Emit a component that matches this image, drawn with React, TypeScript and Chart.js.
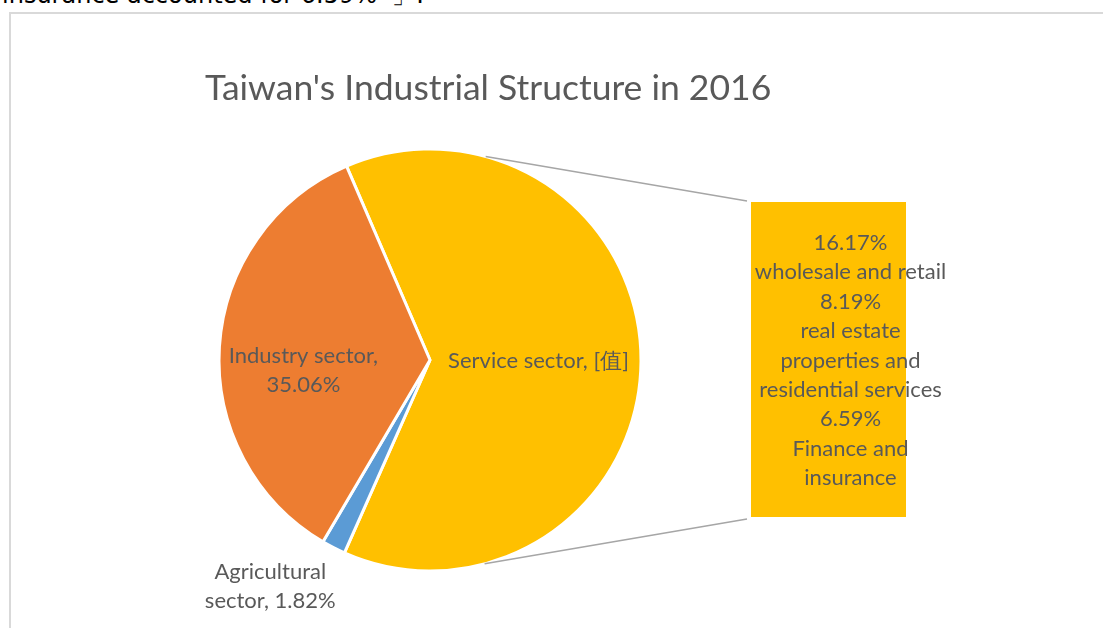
import React, { useEffect, useRef } from "react";
import { Chart, registerables } from "chart.js";

Chart.register(...registerables);

// ---- data ----
const titleText = "Taiwan's Industrial Structure in 2016";
const noteText = "insurance accounted for 6.59%\u00a0\u00a0」.";
const pieLabels = ["Service sector", "Agricultural sector", "Industry sector"];
const pieValues = [63.12, 1.82, 35.06];
const pieColors = ["#FFC000", "#5B9BD5", "#ED7D31"];
const pieLabelLines = [
  ["Service sector, [值]"],
  ["Agricultural", "sector, 1.82%"],
  ["Industry sector,", "35.06%"],
];
const barCategories = [
  "wholesale and retail",
  "real estate properties and residential services",
  "Finance and insurance",
];
const barValues = [16.17, 8.19, 6.59];
const barNameLines = [
  ["wholesale and retail"],
  ["real estate", "properties and", "residential services"],
  ["Finance and", "insurance"],
];

const W = 1103;
const H = 628;
const FONT = "Lato, 'Noto Sans', sans-serif";
const TEXT_COLOR = "#595959";

export default function App() {
  const pieRef = useRef<HTMLCanvasElement | null>(null);
  const barRef = useRef<HTMLCanvasElement | null>(null);

  useEffect(() => {
    if (!pieRef.current || !barRef.current) return;

    // label positions relative to pie centre, in units of radius
    const labelPos = [
      [0.514, 0.005],
      [-0.757, 1.074],
      [-0.6, 0.05],
    ];

    const pieDecor = {
      id: "pieDecor",
      afterDatasetsDraw(chart: any) {
        const ctx = chart.ctx;
        const meta = chart.getDatasetMeta(0);
        const arc: any = meta.data[0];
        const cx = arc.x, cy = arc.y, r = arc.outerRadius;
        ctx.save();
        ctx.fillStyle = TEXT_COLOR;
        ctx.textAlign = "center";
        ctx.textBaseline = "middle";
        ctx.font = `22px ${FONT}`;
        const lh = 28.5;
        pieLabelLines.forEach((lines, i) => {
          const x = cx + labelPos[i][0] * r;
          const y = cy + labelPos[i][1] * r;
          const y0 = y - ((lines.length - 1) * lh) / 2;
          lines.forEach((t, j) => ctx.fillText(t, x, y0 + j * lh));
        });
        // title
        ctx.textAlign = "left";
        ctx.textBaseline = "alphabetic";
        ctx.font = `35.5px ${FONT}`;
        ctx.fillText(titleText, 205, 100);
        ctx.restore();
      },
    };

    const pie = new Chart(pieRef.current, {
      type: "pie",
      data: {
        labels: pieLabels,
        datasets: [
          {
            data: pieValues,
            backgroundColor: pieColors,
            borderColor: "#FFFFFF",
            borderWidth: 3,
            radius: 211,
          } as any,
        ],
      },
      options: {
        responsive: false,
        animation: false,
        rotation: -23.3,
        layout: { padding: { left: 219, right: 462, top: 150, bottom: 58 } },
        plugins: {
          legend: { display: false },
          tooltip: { enabled: false },
          title: { display: false },
        },
      },
      plugins: [pieDecor],
    });

    const total = barValues.reduce((a, b) => a + b, 0);

    const barDecor = {
      id: "barDecor",
      afterDatasetsDraw(chart: any) {
        const ctx = chart.ctx;
        const area = chart.chartArea;
        const pm = pie.getDatasetMeta(0);
        const arc: any = pm.data[0];
        const cx = arc.x, cy = arc.y, r = arc.outerRadius;
        const a1 = (15.3 * Math.PI) / 180;
        const a2 = (165 * Math.PI) / 180;
        ctx.save();
        ctx.strokeStyle = "#A6A6A6";
        ctx.lineWidth = 1.5;
        ctx.beginPath();
        ctx.moveTo(cx + r * Math.sin(a1), cy - r * Math.cos(a1));
        ctx.lineTo(area.left - 4, area.top - 1);
        ctx.moveTo(cx + r * Math.sin(a2), cy - r * Math.cos(a2));
        ctx.lineTo(area.left - 4, area.bottom + 2);
        ctx.stroke();

        // combined label
        const lines: string[] = [];
        barValues.forEach((v, i) => {
          lines.push(v.toFixed(2) + "%");
          barNameLines[i].forEach((t) => lines.push(t));
        });
        ctx.fillStyle = TEXT_COLOR;
        ctx.textAlign = "center";
        ctx.textBaseline = "middle";
        ctx.font = `22px ${FONT}`;
        const lh = 29.4;
        const x = (area.left + area.right) / 2 + 22;
        const y0 = (area.top + area.bottom) / 2 + 1 - ((lines.length - 1) * lh) / 2;
        lines.forEach((t, j) => ctx.fillText(t, x, y0 + j * lh));
        ctx.restore();
      },
    };

    const bar = new Chart(barRef.current, {
      type: "bar",
      data: {
        labels: ["Service sector"],
        datasets: barValues.map((v, i) => ({
          label: barCategories[i],
          data: [v],
          backgroundColor: "#FFC000",
          borderWidth: 0,
          barPercentage: 1,
          categoryPercentage: 1,
          inflateAmount: 0.6,
        })) as any,
      },
      options: {
        responsive: false,
        animation: false,
        layout: { padding: { left: 751, right: 197, top: 202, bottom: 111 } },
        scales: {
          x: { display: false, stacked: true },
          y: { display: false, stacked: true, min: 0, max: total },
        },
        plugins: {
          legend: { display: false },
          tooltip: { enabled: false },
          title: { display: false },
        },
      },
      plugins: [barDecor],
    });

    return () => {
      bar.destroy();
      pie.destroy();
    };
  }, []);

  return (
    <div
      style={{
        position: "fixed",
        left: 0,
        top: 0,
        width: W,
        height: H,
        overflow: "hidden",
        background: "#FFFFFF",
      }}
    >
      <div
        style={{
          position: "absolute",
          left: 2,
          top: -17,
          fontFamily: "'DejaVu Sans', sans-serif",
          fontSize: 24,
          lineHeight: "24px",
          color: "#000000",
          whiteSpace: "nowrap",
        }}
      >
        {noteText}
      </div>
      <div
        style={{
          position: "absolute",
          left: 9,
          top: 12,
          width: W + 20,
          height: H + 20,
          borderLeft: "2px solid #D9D9D9",
          borderTop: "2px solid #D9D9D9",
          boxSizing: "border-box",
        }}
      />
      <canvas
        ref={pieRef}
        width={W}
        height={H}
        style={{ position: "absolute", left: 0, top: 0 }}
      />
      <canvas
        ref={barRef}
        width={W}
        height={H}
        style={{ position: "absolute", left: 0, top: 0 }}
      />
    </div>
  );
}
